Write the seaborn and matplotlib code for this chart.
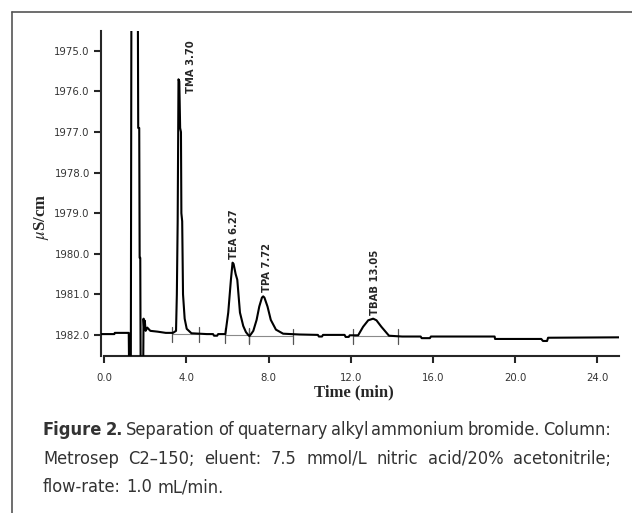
import numpy as np
import pandas as pd
import seaborn as sns
import matplotlib.pyplot as plt

# chromatogram trace (time in min, conductivity in uS/cm)
time_min = [-0.15, 0.50, 0.52, 1.20, 1.22, 1.30, 1.33, 1.64, 1.66, 1.71, 1.73, 1.76, 1.78, 1.90,
            1.92, 1.95, 1.98, 2.02, 2.10, 2.25, 2.60, 3.00, 3.35,
            3.50, 3.54, 3.58, 3.62, 3.66, 3.70, 3.74, 3.76, 3.80, 3.84, 3.92, 4.02, 4.25,
            5.00, 5.30, 5.35, 5.50, 5.55, 5.90,
            6.04, 6.17, 6.25, 6.30, 6.40, 6.48, 6.61, 6.77, 6.90, 7.01, 7.07, 7.15,
            7.26, 7.42, 7.55, 7.68, 7.74, 7.80, 7.95, 8.11, 8.36, 8.71,
            9.50, 10.40, 10.45, 10.60, 10.65, 11.70, 11.75, 11.90, 11.95,
            12.36, 12.60, 12.85, 13.09, 13.25, 13.49, 13.86,
            14.50, 15.40, 15.45, 15.85, 15.90, 19.00, 19.02, 21.27, 21.35, 21.55, 21.60, 25.05]
signal = [1981.98, 1981.98, 1981.95, 1981.95, 1983.0, 1983.0, 1973.5, 1973.5, 1976.9, 1976.9, 1980.1, 1980.1, 1983.0, 1983.0,
          1981.60, 1981.85, 1981.65, 1981.90, 1981.82, 1981.90, 1981.92, 1981.95, 1981.95,
          1981.90, 1981.0, 1979.2, 1975.7, 1975.75, 1976.9, 1977.0, 1979.0, 1979.2, 1981.0, 1981.6, 1981.85, 1981.96,
          1981.98, 1981.98, 1982.02, 1982.02, 1981.98, 1981.98,
          1981.45, 1980.64, 1980.22, 1980.25, 1980.50, 1980.64, 1981.45, 1981.78, 1981.93, 1982.0, 1982.03, 1981.98,
          1981.90, 1981.63, 1981.30, 1981.08, 1981.05, 1981.08, 1981.30, 1981.63, 1981.87, 1981.97,
          1981.99, 1982.0, 1982.04, 1982.04, 1982.0, 1982.0, 1982.05, 1982.05, 1982.01,
          1982.01, 1981.80, 1981.64, 1981.60, 1981.64, 1981.80, 1982.02,
          1982.04, 1982.04, 1982.08, 1982.08, 1982.04, 1982.04, 1982.10, 1982.10, 1982.15, 1982.15, 1982.07, 1982.06]

# integration baselines under the peaks
base_start = [3.30, 5.90, 7.07, 12.10]
base_end = [4.60, 7.07, 9.20, 14.30]
base_level = [1981.97, 1982.0, 1982.02, 1982.03]

# peak labels
peak_names = ["TMA 3.70", "TEA 6.27", "TPA 7.72", "TBAB 13.05"]

y_ticks = [1975, 1976, 1977, 1978, 1979, 1980, 1981, 1982]
x_ticks = [0, 4, 8, 12, 16, 20, 24]

caption_lines = ["Figure 2. Separation of quaternary alkyl ammonium bromide. Column:",
                 "Metrosep C2\u2013150; eluent: 7.5 mmol/L nitric acid/20% acetonitrile;",
                 "flow-rate: 1.0 mL/min."]

sns.set_style("ticks")
plt.rcParams["font.family"] = ["DejaVu Sans"]
plt.rcParams["mathtext.fontset"] = "stix"

df = pd.DataFrame({"t": time_min, "s": signal})

fig = plt.figure(figsize=(6.32, 5.13), dpi=100)
ax = fig.add_axes([101 / 632, 1 - 356 / 513, 518 / 632, 325 / 513])

# thin gray integration baselines with tick marks at the ends
for a, b, lv in zip(base_start, base_end, base_level):
    ax.plot([a, b], [lv, lv], color="#8a8a8a", lw=0.8, zorder=1)
for a, lv in zip(base_start + base_end, base_level + base_level):
    ax.plot([a, a], [lv - 0.17, lv + 0.2], color="#555555", lw=0.9, zorder=1)

sns.lineplot(data=df, x="t", y="s", ax=ax, color="black", lw=1.5,
             estimator=None, sort=False, zorder=3)

# peak annotations
label_x = [4.22, 6.32, 7.92, 13.17]
label_y = [1976.04, 1980.12, 1980.95, 1981.52]
for name, lx, ly in zip(peak_names, label_x, label_y):
    ax.text(lx, ly, name, rotation=90, ha="center", va="bottom", fontsize=8.0,
            family="DejaVu Sans", fontstretch="condensed", fontweight="bold")

ax.set_xlim(-0.15, 25.05)
ax.set_ylim(1982.52, 1974.51)
ax.set_yticks(y_ticks)
ax.set_yticklabels([f"{v:.1f}" for v in y_ticks])
ax.set_xticks(x_ticks)
ax.set_xticklabels([f"{v:.1f}" for v in x_ticks])
ax.set_xlabel("")
ax.set_ylabel("")
ax.spines["top"].set_visible(False)
ax.spines["right"].set_visible(False)
ax.spines["left"].set_linewidth(1.5)
ax.spines["bottom"].set_linewidth(1.5)
ax.spines["bottom"].set_bounds(0, 25.05)
ax.tick_params(axis="both", length=5, width=1.5, labelsize=7.3, labelcolor="#333333", pad=3)
ax.tick_params(axis="x", pad=7)

fig.text(42 / 632, 1 - 217 / 513, r"$\mu$S/cm", rotation=90, ha="center", va="center",
         fontsize=12, fontweight="bold", family="Liberation Serif")
fig.text(354 / 632, 1 - 392 / 513, "Time (min)", ha="center", va="center",
         fontsize=12, fontweight="bold", family="Liberation Serif")

# figure frame (top and left only)
fig.add_artist(plt.Line2D([11.5 / 632, 1], [1 - 11.5 / 513] * 2, color="#555555", lw=1.2))
fig.add_artist(plt.Line2D([11.5 / 632] * 2, [0, 1 - 11.5 / 513], color="#555555", lw=1.2))

# caption: justified first two lines between x=43 and x=611
cap_kw = dict(family="DejaVu Sans", fontstretch="condensed", color="#333333", va="baseline")
left, right = 43, 611
renderer = fig.canvas.get_renderer()


def word_widths(k, fs):
    words = caption_lines[k].split(" ")
    ws = []
    for i, w in enumerate(words):
        bold = k == 0 and i < 2
        t = fig.text(0, 0, w, fontsize=fs, fontweight="bold" if bold else "normal", **cap_kw)
        ws.append(t.get_window_extent(renderer).width)
        t.remove()
    return words, ws


probe = fig.text(0, 0, " ", fontsize=12, **cap_kw)
space12 = probe.get_window_extent(renderer).width
probe.remove()

fits = []
for k in range(2):
    words, ws = word_widths(k, 12)
    natural = sum(ws) + space12 * (len(words) - 1)
    fits.append(12 * (right - left) / natural)
fs = min(max(fits), min(fits) * 1.025)

baselines = [435, 463.5, 492]
for k in range(3):
    words, ws = word_widths(k, fs)
    if k < 2:
        gap = (right - left - sum(ws)) / (len(words) - 1)
    else:
        gap = space12 * fs / 12
    x = left
    for i, (w, wd) in enumerate(zip(words, ws)):
        bold = k == 0 and i < 2
        fig.text(x / 632, 1 - baselines[k] / 513, w, fontsize=fs,
                 fontweight="bold" if bold else "normal", **cap_kw)
        x += wd + gap

fig.savefig("out.png", dpi=100)
